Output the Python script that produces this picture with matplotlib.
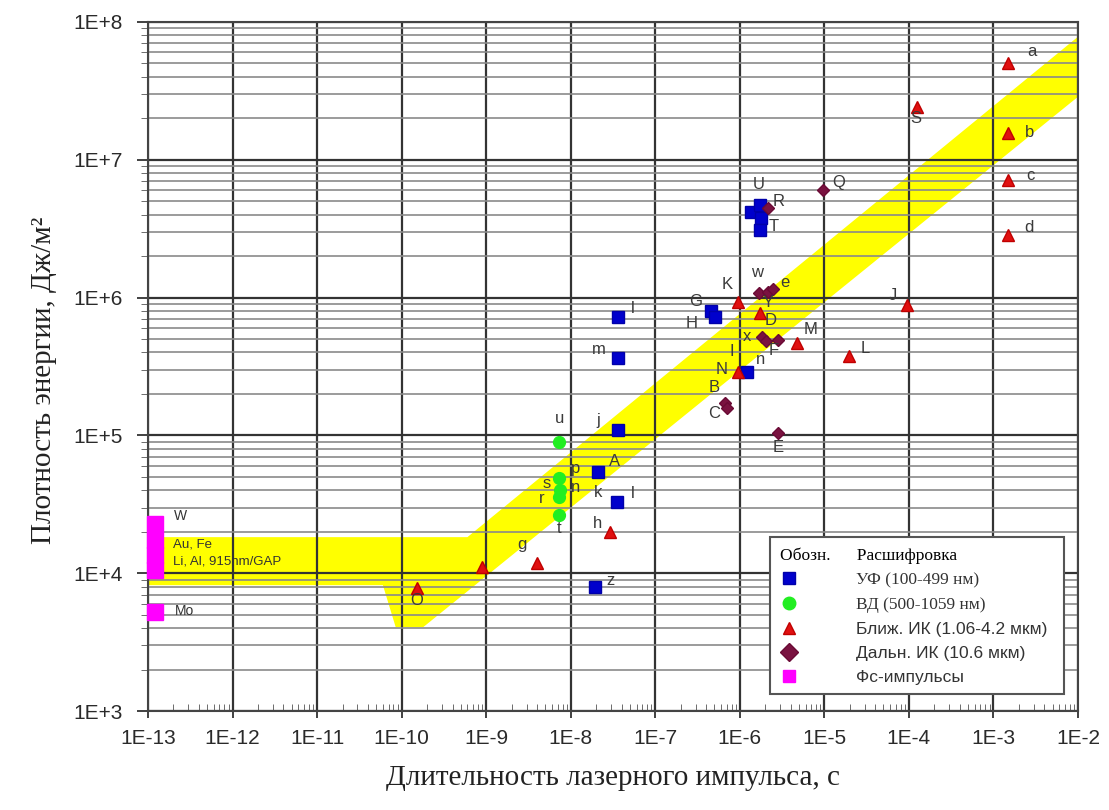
import numpy as np
import matplotlib
matplotlib.use("Agg")
import matplotlib.pyplot as plt
from matplotlib.ticker import LogLocator, FuncFormatter, NullFormatter

# УФ (100-499 нм)
uv_t = [3.6e-8, 3.6e-8, 3.6e-8, 2.1e-8, 3.55e-8, 1.95e-8, 4.6e-7, 5.1e-7, 1.23e-6,
        1.35e-6, 1.75e-6, 1.8e-6, 1.75e-6]
uv_e = [7.2e5, 3.65e5, 1.09e5, 5.4e4, 3.3e4, 7.9e3, 8.0e5, 7.2e5, 2.9e5,
        4.2e6, 4.7e6, 3.8e6, 3.1e6]
uv_lab = ["l", "m", "j", "A", "l", "z", "G", "H", "n", "I", "U", "", "T"]
uv_off = [(15, 9), (-19, 8), (-19, 10), (17, 11), (16, 8), (15, 7), (-16, 9), (-23, -6),
          (13, 12), (-11, 7), (-2, 20), (0, 0), (13, 3)]

# ВД (500-1059 нм)
vis_t = [7.3e-9, 7.3e-9, 7.4e-9, 7.3e-9, 7.2e-9]
vis_e = [8.95e4, 4.9e4, 4.0e4, 3.6e4, 2.64e4]
vis_lab = ["u", "p", "s", "r", "t"]
vis_off = [(0, 24), (16, 10), (-13, 7), (-17, -2), (0, -13)]

# Ближ. ИК (1.06-4.2 мкм)
nir_t = [1.5e-3, 1.5e-3, 1.5e-3, 1.5e-3, 1.26e-4, 9.5e-5, 9.6e-7, 1.75e-6, 4.8e-6,
         1.98e-5, 9.6e-7, 2.93e-8, 4.0e-9, 9.0e-10, 1.52e-10]
nir_e = [5.05e7, 1.56e7, 7.1e6, 2.85e6, 2.4e7, 8.9e5, 9.3e5, 7.7e5, 4.7e5,
         3.77e5, 2.9e5, 1.99e4, 1.19e4, 1.11e4, 7.8e3]
nir_lab = ["a", "b", "c", "d", "S", "J", "K", "D", "M", "L", "N", "h", "g", "", "O"]
nir_off = [(24, 11), (21, 1), (22, 5), (21, 7), (-2, -11), (-14, 9), (-11, 17), (10, -7),
           (13, 13), (16, 8), (-17, 2), (-13, 9), (-15, 18), (0, 0), (0, -12)]

# Дальн. ИК (10.6 мкм)
fir_t = [9.7e-6, 1.70e-6, 2.17e-6, 2.49e-6, 1.85e-6, 2.06e-6, 2.86e-6, 6.73e-7, 7.1e-7,
         2.86e-6, 2.17e-6]
fir_e = [6.0e6, 1.08e6, 1.10e6, 1.15e6, 5.18e5, 4.84e5, 4.92e5, 1.72e5, 1.58e5,
         1.04e5, 4.47e6]
fir_lab = ["Q", "w", "Y", "e", "x", "F", "", "B", "C", "E", "R"]
fir_off = [(15, 8), (-2, 20), (0, -11), (12, 7), (-15, 0), (7, -9), (0, 0), (-11, 15),
           (-13, -5), (0, -14), (10, 6)]

# вторые подписи у некоторых точек: (серия, индекс, текст, смещение)
extra_lab = [("uv", 4, "k", (-19, 9)), ("vis", 2, "n", (16, 3)), ("nir", 10, "I", (-6, 20))]

# фемтосекундные импульсы
fs_t = [1.22e-13, 1.22e-13, 1.22e-13, 1.22e-13, 1.22e-13]
fs_e = [2.28e4, 1.74e4, 1.36e4, 1.05e4, 5.2e3]

# полоса типичных значений
band_t = [1e-13, 6e-10, 1e-2, 1e-2, 1.8e-10, 8.5e-11, 6e-11, 1e-13]
band_e = [1.83e4, 1.83e4, 7.8e7, 2.86e7, 4.07e3, 4.07e3, 8.2e3, 8.2e3]

fig = plt.figure(figsize=(11.09, 8.10), dpi=100)
ax = fig.add_axes([0.1335, 0.122, 0.8385, 0.851])
ax.set_xscale("log")
ax.set_yscale("log")
ax.set_xlim(1e-13, 1e-2)
ax.set_ylim(1e3, 1e8)

ax.fill(band_t, band_e, color="#ffff00", lw=0, zorder=1)

# сетка
ax.xaxis.set_major_locator(LogLocator(base=10, numticks=20))
ax.yaxis.set_major_locator(LogLocator(base=10, numticks=20))
ax.xaxis.set_minor_locator(LogLocator(base=10, subs=np.arange(2, 10), numticks=20))
ax.yaxis.set_minor_locator(LogLocator(base=10, subs=np.arange(2, 10), numticks=20))
ax.xaxis.set_minor_formatter(NullFormatter())
ax.yaxis.set_minor_formatter(NullFormatter())
ax.grid(True, which="major", axis="both", color="#333333", lw=1.6)
ax.grid(True, which="minor", axis="y", color="#8a8a8a", lw=1.2)

fmt = FuncFormatter(lambda v, p: "1E%+d" % int(round(np.log10(v))))
ax.xaxis.set_major_formatter(fmt)
ax.yaxis.set_major_formatter(fmt)
ax.tick_params(axis="both", which="major", labelsize=15, length=8, width=1.3, color="#333333")
ax.tick_params(axis="x", which="major", direction="inout", length=10, pad=8)
ax.tick_params(axis="y", which="major", pad=10)
ax.tick_params(axis="x", which="minor", direction="in", length=5, color="#555555")
ax.tick_params(axis="y", which="minor", direction="out", length=5, color="#555555")
for lab in ax.get_xticklabels() + ax.get_yticklabels():
    lab.set_family("Liberation Sans")
    lab.set_color("#2a2a2a")
for s in ax.spines.values():
    s.set_color("#444444")
    s.set_linewidth(1.5)

h_uv, = ax.plot(uv_t, uv_e, "s", color="#0000cc", ms=8.5, mec="#0000aa", zorder=3)
h_vis, = ax.plot(vis_t, vis_e, "o", color="#22ee22", ms=8.5, mec="#22ee22", zorder=3)
h_nir, = ax.plot(nir_t, nir_e, "^", color="#e01010", ms=8, mec="#c00000", zorder=3)
h_fir, = ax.plot(fir_t, fir_e, "D", color="#7a1240", ms=6.5, mec="#6a0a35", zorder=3)
h_fs, = ax.plot(fs_t, fs_e, "s", color="#ff00ff", ms=11, mec="#ff00ff", zorder=3,
                clip_on=False)

series = {"uv": (uv_t, uv_e), "vis": (vis_t, vis_e), "nir": (nir_t, nir_e), "fir": (fir_t, fir_e)}
labels = {"uv": (uv_lab, uv_off), "vis": (vis_lab, vis_off), "nir": (nir_lab, nir_off),
          "fir": (fir_lab, fir_off)}

def put_label(t, e, text, off):
    ax.annotate(text, (t, e), xytext=off, textcoords="offset pixels", ha="center",
                va="center", fontsize=12, color="#3a3a3a", family="Liberation Sans",
                zorder=4)

for key, (ts, es) in series.items():
    labs, offs = labels[key]
    for t, e, text, off in zip(ts, es, labs, offs):
        if text:
            put_label(t, e, text, off)
for key, i, text, off in extra_lab:
    put_label(series[key][0][i], series[key][1][i], text, off)

# подписи фс-точек
ax.text(2.05e-13, 2.6e4, "W", fontsize=10, family="Liberation Sans", color="#333333",
        va="center")
ax.text(2.0e-13, 1.62e4, "Au, Fe", fontsize=9.5, family="Liberation Sans", color="#333333",
        va="center")
ax.text(2.0e-13, 1.22e4, "Li, Al, 915nm/GAP", fontsize=9.5, family="Liberation Sans",
        color="#333333", va="center")
ax.text(2.05e-13, 5.3e3, "Mo", fontsize=10, family="Liberation Sans", color="#333333",
        va="center")

ax.set_xlabel("Длительность лазерного импульса, с", family="Liberation Serif",
              fontsize=21, labelpad=12, color="#222222")
ax.set_ylabel("Плотность энергии, Дж/м²", family="Liberation Serif", fontsize=21,
              color="#222222")
ax.yaxis.set_label_coords(-0.098, 0.48)

leg = ax.legend([h_uv, h_vis, h_nir, h_fir, h_fs],
                ["УФ (100-499 нм)", "ВД (500-1059 нм)", "Ближ. ИК (1.06-4.2 мкм)",
                 "Дальн. ИК (10.6 мкм)", "Фс-импульсы"],
                title="Обозн.      Расшифровка", alignment="left",
                loc="lower left", bbox_to_anchor=(0.66, 0.012, 0.334, 0.236), mode="expand",
                fontsize=12.5, title_fontsize=12.5, handlelength=1.0, handletextpad=3.4,
                labelspacing=0.5, borderpad=0.55, fancybox=False, framealpha=1,
                edgecolor="#555555")
leg.get_frame().set_linewidth(1.5)
leg.get_title().set_family("Liberation Serif")
for i, txt in enumerate(leg.get_texts()):
    txt.set_family("Liberation Serif" if i < 2 else "Liberation Sans")
    txt.set_color("#333333")
for hnd in leg.legend_handles:
    hnd.set_markersize(9)

fig.savefig("out.png", dpi=100)
